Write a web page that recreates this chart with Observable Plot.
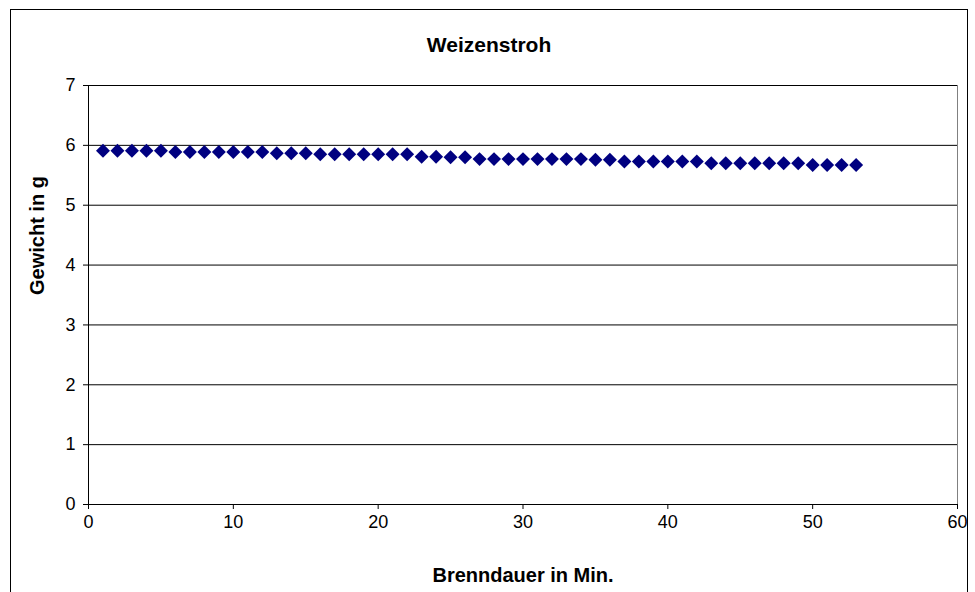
<!DOCTYPE html>
<html><head><meta charset="utf-8">
<script src="https://cdn.jsdelivr.net/npm/d3@7"></script>
<script src="https://cdn.jsdelivr.net/npm/@observablehq/plot@0.6"></script>
<style>
body{margin:0;background:#fff;}
svg{font-family:"Liberation Sans",Arial,sans-serif;}
</style></head>
<body><div id="chart"></div>
<script>
const minutes = d3.range(1, 54);
const weights = [
  5.91,5.91,5.91,5.91,5.91,
  5.89,5.89,5.89,5.89,5.89,5.89,5.89,
  5.87,5.87,5.87,
  5.85,5.85,5.85,5.85,5.85,5.85,5.85,
  5.81,5.81,5.80,5.80,
  5.77,5.77,5.77,5.77,5.77,5.77,5.77,5.77,5.76,5.76,
  5.73,5.73,5.73,5.73,5.73,5.73,
  5.70,5.70,5.70,5.70,5.70,5.70,5.70,
  5.67,5.67,5.67,5.67
];
const xTicks = [0,10,20,30,40,50,60];
const yTicks = [0,1,2,3,4,5,6,7];
const data = minutes.map((m,i)=>({m, w: weights[i]}));

const chart = Plot.plot({
  width: 975, height: 592,
  marginLeft: 88, marginRight: 18, marginTop: 85, marginBottom: 88,
  style: {fontFamily: '"Liberation Sans", Arial, sans-serif', fontSize: "18px", color: "#000", background: "#fff"},
  x: {domain: [0, 60], ticks: xTicks, label: null},
  y: {domain: [0, 7], ticks: yTicks, label: null},
  marks: [
    Plot.frame({stroke: "#808080"}),
    Plot.gridY(yTicks, {stroke: "#000", strokeOpacity: 1, strokeWidth: 1}),
    Plot.axisX({ticks: xTicks, tickSize: 5, tickPadding: 6, tickFormat: "d", fontSize: 18, label: null}),
    Plot.axisY({ticks: yTicks, tickSize: 5, tickPadding: 8, tickFormat: "d", fontSize: 18, label: null}),
    Plot.ruleX([0], {stroke: "#000"}),
    Plot.ruleY([0], {stroke: "#000"}),
    Plot.dot(data, {x: "m", y: "w", symbol: "diamond2", r: 6.3, fill: "#000080", stroke: "none"}),
    Plot.text(["Weizenstroh"], {frameAnchor: "top", dy: -48, dx: -34, fontSize: 21, fontWeight: "bold"}),
    Plot.text(["Brenndauer in Min."], {frameAnchor: "bottom", dy: 77, fontSize: 20, fontWeight: "bold"}),
    Plot.text(["Gewicht in g"], {frameAnchor: "left", dx: -51, rotate: -90, fontSize: 20, fontWeight: "bold"})
  ]
});
d3.select(chart).selectAll('g[aria-label*="tick label"]').attr("font-size", 18).style("font-size", "18px");
d3.select(chart).insert("rect", ":first-child")
  .attr("x", 10.5).attr("y", 9.5).attr("width", 957).attr("height", 600)
  .attr("fill", "none").attr("stroke", "#000").attr("stroke-width", 1);
document.getElementById("chart").append(chart);
</script></body></html>
